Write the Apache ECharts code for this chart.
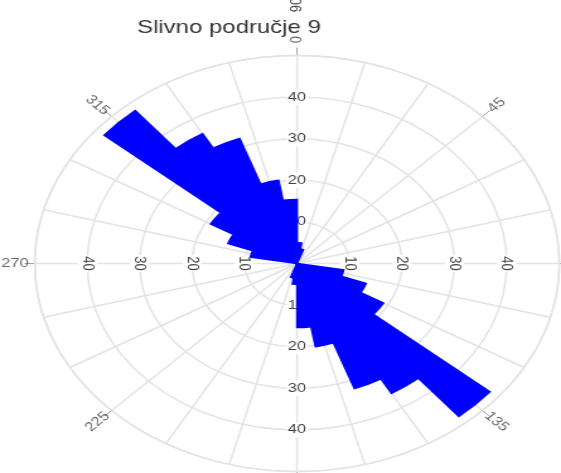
<!DOCTYPE html>
<html><head><meta charset="utf-8">
<script src="https://cdn.jsdelivr.net/npm/echarts@6/dist/echarts.min.js"></script>
<style>
html,body{margin:0;padding:0;background:#fff;overflow:hidden}
#wrap{width:561px;height:473px;overflow:hidden;position:relative}
#chart{width:445px;height:473px;transform:scaleX(1.2607);transform-origin:0 0}
</style></head><body><div id="wrap"><div id="chart"></div></div>
<script>
// 10-degree direction bins (start angle of each bin, compass degrees)
const binStarts = [0,10,20,30,40,50,60,70,80,90,100,110,120,130,140,150,160,170,
                   180,190,200,210,220,230,240,250,260,270,280,290,300,310,320,330,340,350];
// frequency per bin
const counts = [5,3.5,0,0,0,0,0,0,0,0,9,14,19,48,36,32,20.3,15.4,
                5,3.5,0,0,0,0,0,0,0,0,9,14,19,48,36,32,20.3,15.4];
const angleLabels = [0,45,90,135,180,225,270,315];
const radiusTicks = [10,20,30,40];
const titleText = 'Slivno područje 9';
const topText = '90';

const chart = echarts.init(document.getElementById('chart'), null, {renderer:'canvas'});
const C = [235.6, 263.5], R = 208;
const GRID = '#e3e3e3', TXT = '#444';

function polar(){ return {center: C, radius: R}; }
function hiddenAngle(i, start){
  return {polarIndex:i, type:'value', min:0, max:360, startAngle:start, clockwise:true,
    axisLine:{show:false}, axisTick:{show:false}, axisLabel:{show:false}, splitLine:{show:false}};
}
function labelRadius(i, rot){
  return {polarIndex:i, type:'value', min:0, max:50, interval:10,
    axisLine:{show:false}, axisTick:{show:false}, splitLine:{show:false},
    axisLabel:{show:true, rotate:rot, margin:0, align:'center', verticalAlign:'middle',
      color:TXT, fontSize:13, fontFamily:'Liberation Sans', backgroundColor:'#fff', padding:[1,1],
      showMinLabel:false, showMaxLabel:false}};
}
function plainRadius(i){
  return {polarIndex:i, type:'value', min:0, max:50, interval:10,
    axisLine:{show:false}, axisTick:{show:false}, axisLabel:{show:false}, splitLine:{show:false}};
}

const labelData = angleLabels.map(a => {
  let r = 90 - a; while (r <= -90) r += 180; while (r > 90) r -= 180;
  return {value:[53.8, a], label:{rotate:r}};
});

const option = {
  animation:false,
  polar:[polar(),polar(),polar(),polar(),polar(),polar()],
  angleAxis:[
    {polarIndex:0, type:'category', data:binStarts, startAngle:90, clockwise:true, boundaryGap:true,
      axisLine:{show:false}, axisTick:{show:false}, axisLabel:{show:false}, splitLine:{show:false}},
    {polarIndex:1, type:'value', min:0, max:360, interval:15, startAngle:90, clockwise:true,
      axisLine:{show:true, lineStyle:{color:GRID, width:1.5}}, axisTick:{show:false}, axisLabel:{show:false},
      splitLine:{show:true, lineStyle:{color:GRID, width:1.5}}},
    {polarIndex:2, type:'value', min:0, max:360, interval:45, startAngle:90, clockwise:true,
      axisLine:{show:false}, axisTick:{show:true, length:8, lineStyle:{color:'#a0a0a0', width:1}},
      axisLabel:{show:false}, splitLine:{show:false}},
    hiddenAngle(3, 0), hiddenAngle(4, 270), hiddenAngle(5, 180)
  ],
  radiusAxis:[
    labelRadius(0, 0),
    {polarIndex:1, type:'value', min:0, max:50, interval:10, axisLine:{show:false}, axisTick:{show:false},
      axisLabel:{show:false}, splitLine:{show:true, lineStyle:{color:GRID, width:1.5}}},
    plainRadius(2),
    labelRadius(3, -90), labelRadius(4, 0), labelRadius(5, -90)
  ],
  series:[
    {type:'bar', coordinateSystem:'polar', polarIndex:0, data:counts, barCategoryGap:'0%',
      itemStyle:{color:'#0000ff', borderColor:'#0000ff', borderWidth:1.6}, emphasis:{disabled:true}, z:3},
    {type:'scatter', coordinateSystem:'polar', polarIndex:1, data:labelData, symbolSize:0, clip:false,
      label:{show:true, position:'inside', formatter:p => String(p.value[1]), color:TXT, fontSize:13,
        fontFamily:'Liberation Sans'}, emphasis:{disabled:true}, silent:true}
  ],
  graphic:[
    {type:'text', x:181.6, y:28, style:{text:titleText, fill:'#333', font:'19px "Liberation Sans"',
      align:'center', verticalAlign:'middle'}},
    {type:'text', x:235.6, y:5, rotation:Math.PI/2, style:{text:topText, fill:TXT,
      font:'13px "Liberation Sans"', align:'center', verticalAlign:'middle'}}
  ]
};
chart.setOption(option);
</script></body></html>
